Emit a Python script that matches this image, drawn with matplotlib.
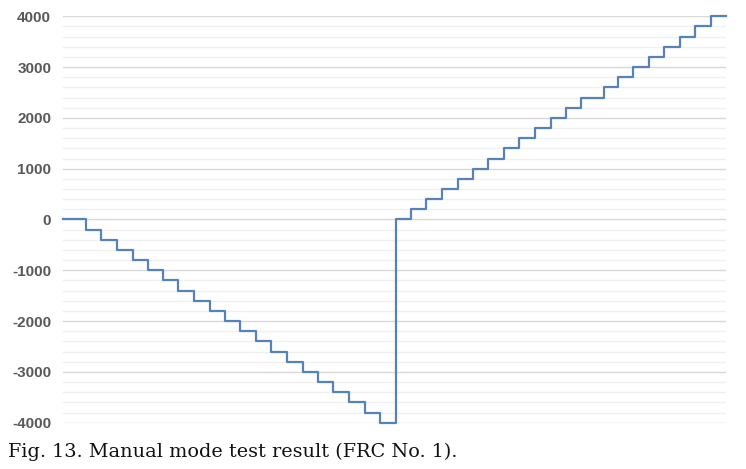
import matplotlib
matplotlib.use("Agg")
import matplotlib.pyplot as plt
from matplotlib.ticker import MultipleLocator

plt.rcParams["axes.unicode_minus"] = False

# time instants (s) where the commanded position changes, plus start and end
times = [0.0, 1.49, 2.46, 3.50, 4.54, 5.51, 6.49, 7.46, 8.50, 9.53, 10.51,
         11.48, 12.52, 13.49, 14.53, 15.56, 16.54, 17.51, 18.55, 19.58, 20.56,
         21.60, 22.57, 23.54, 24.58, 25.62, 26.59, 27.56, 28.60, 29.57, 30.60,
         31.65, 32.62, 33.60, 35.08, 35.99, 36.97, 38.00, 38.98, 40.00, 41.00,
         42.00, 43.00]

# position level held from each instant
levels = [0, -200, -400, -600, -800, -1000, -1200, -1400, -1600, -1800, -2000,
          -2200, -2400, -2600, -2800, -3000, -3200, -3400, -3600, -3800, -4000,
          0, 200, 400, 600, 800, 1000, 1200, 1400, 1600, 1800, 2000,
          2200, 2400, 2600, 2800, 3000, 3200, 3400, 3600, 3800, 4000, 4000]

yticks = [-4000, -3000, -2000, -1000, 0, 1000, 2000, 3000, 4000]
caption = "Fig. 13. Manual mode test result (FRC No. 1)."

fig = plt.figure(figsize=(7.46, 4.69), dpi=100)
ax = fig.add_axes([63 / 746, 1 - 422.7 / 469, 663 / 746, 406.4 / 469])

ax.plot(times, levels, drawstyle="steps-post", color="#5682ba", lw=1.6,
        clip_on=False, zorder=3)

ax.set_xlim(0, 43)
ax.set_ylim(-4000, 4000)
ax.set_yticks(yticks)
ax.yaxis.set_minor_locator(MultipleLocator(200))
ax.set_xticks([])
ax.grid(axis="y", which="major", color="#d9d9d9", lw=1.0)
ax.grid(axis="y", which="minor", color="#f0f0f0", lw=1.0)
ax.set_axisbelow(True)
for s in ax.spines.values():
    s.set_visible(False)
ax.tick_params(axis="y", which="both", length=0, pad=8.5, labelsize=11,
               labelcolor="#595959")
for lab in ax.get_yticklabels():
    lab.set_fontweight("bold")
    lab.set_fontfamily("Liberation Sans")

fig.text(8 / 746, 1 - 457 / 469, caption, family="DejaVu Serif",
         fontsize=13.9, color="#111111", va="baseline", ha="left")

fig.savefig("out.png", dpi=100)
